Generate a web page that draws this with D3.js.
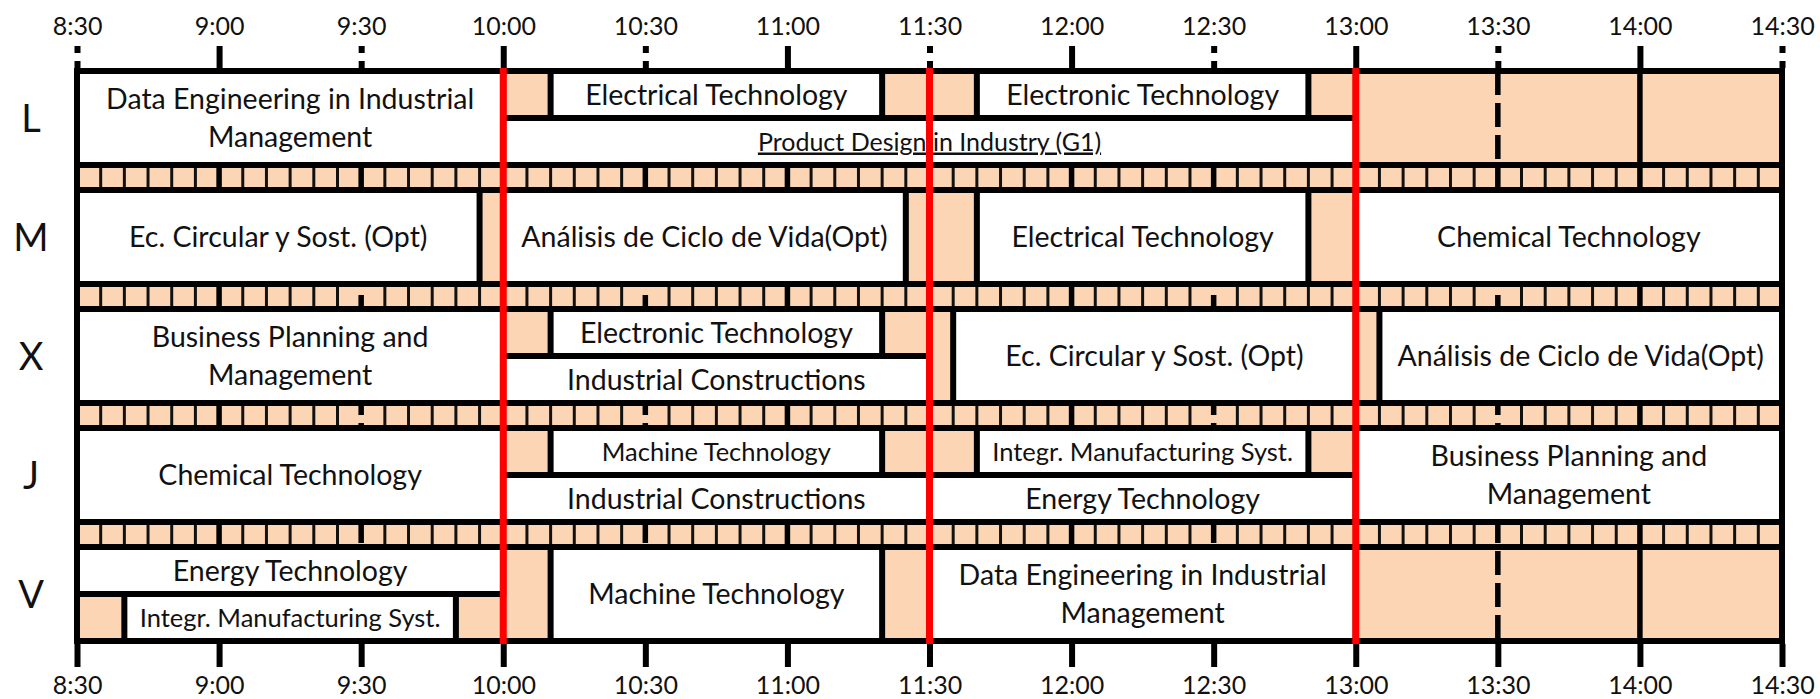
<!DOCTYPE html>
<html>
<head>
<meta charset="utf-8">
<script src="https://cdn.jsdelivr.net/npm/d3@7"></script>
<style>
  body { margin: 0; background: #fff; }
  text { font-family: Lato, "Open Sans", sans-serif; fill: #111; }
</style>
</head>
<body>
<svg id="chart" width="1820" height="699"></svg>
<script>
"use strict";

// timetable data
let days = ["L", "M", "X", "J", "V"];
let tickLabels = ["8:30", "9:00", "9:30", "10:00", "10:30", "11:00", "11:30",
  "12:00", "12:30", "13:00", "13:30", "14:00", "14:30"];
let redLines = ["10:00", "11:30", "13:00"];

// [start, end, part, label, size, underline]
let lunes = [
  ["8:30", "10:00", "full", "Data Engineering in Industrial\nManagement"],
  ["10:10", "11:20", "top", "Electrical Technology"],
  ["11:40", "12:50", "top", "Electronic Technology"],
  ["10:00", "13:00", "bottom", "Product Design in Industry (G1)", "mid", true],
];
let martes = [
  ["8:30", "9:55", "full", "Ec. Circular y Sost. (Opt)"],
  ["10:00", "11:25", "full", "Análisis de Ciclo de Vida(Opt)"],
  ["11:40", "12:50", "full", "Electrical Technology"],
  ["13:00", "14:30", "full", "Chemical Technology"],
];
let miercoles = [
  ["8:30", "10:00", "full", "Business Planning and\nManagement"],
  ["10:10", "11:20", "top", "Electronic Technology"],
  ["10:00", "11:30", "bottom", "Industrial Constructions"],
  ["11:35", "13:00", "full", "Ec. Circular y Sost. (Opt)"],
  ["13:05", "14:30", "full", "Análisis de Ciclo de Vida(Opt)"],
];
let jueves = [
  ["8:30", "10:00", "full", "Chemical Technology"],
  ["10:10", "11:20", "top", "Machine Technology", "small"],
  ["11:40", "12:50", "top", "Integr. Manufacturing Syst.", "small"],
  ["10:00", "11:30", "bottom", "Industrial Constructions"],
  ["11:30", "13:00", "bottom", "Energy Technology"],
  ["13:00", "14:30", "full", "Business Planning and\nManagement"],
];
let viernes = [
  ["8:30", "10:00", "top", "Energy Technology"],
  ["8:40", "9:50", "bottom", "Integr. Manufacturing Syst.", "small"],
  ["10:10", "11:20", "full", "Machine Technology"],
  ["11:30", "13:00", "full", "Data Engineering in Industrial\nManagement"],
];

let schedule = { L: lunes, M: martes, X: miercoles, J: jueves, V: viernes };
let fontSizes = { normal: 28.5, mid: 25, small: 25.5 };

let toMin = (s) => {
  let [h, m] = s.split(":").map(Number);
  return h * 60 + m;
};
let fmt = (m) => `${Math.floor(m / 60)}:${String(m % 60).padStart(2, "0")}`;

let svg = d3.select("#chart");
let peach = "#fcd5b4";

let x = d3.scaleLinear()
  .domain([toMin("8:30"), toMin("14:30")])
  .range([77, 1782]);
let y = d3.scaleBand()
  .domain(days)
  .range([71, 641])
  .paddingInner(25 / 119);
let bw = y.bandwidth();
let top0 = y.range()[0], bot0 = y.range()[1];

// peach background
svg.append("rect")
  .attr("x", x.range()[0]).attr("y", top0)
  .attr("width", x.range()[1] - x.range()[0]).attr("height", bot0 - top0)
  .attr("fill", peach);

// 5 minute cells in the break strips
let fiveMin = d3.range(toMin("8:30") + 5, toMin("14:30"), 5).filter((m) => m % 30 !== 0);
days.slice(0, -1).forEach((d, i) => {
  let ya = y(d) + bw, yb = y(days[i + 1]);
  svg.append("g").selectAll("line")
    .data(fiveMin)
    .enter()
    .append("line")
    .attr("x1", (m) => x(m)).attr("x2", (m) => x(m))
    .attr("y1", ya).attr("y2", yb)
    .attr("stroke", "#111")
    .attr("stroke-width", 3);
});

// half hour grid lines
let tickMins = tickLabels.map(toMin);
svg.append("g").selectAll("line")
  .data(tickMins.slice(1, -1))
  .enter()
  .append("line")
  .attr("x1", (m) => x(m)).attr("x2", (m) => x(m))
  .attr("y1", top0).attr("y2", bot0)
  .attr("stroke", "#000")
  .attr("stroke-width", 5.5)
  .attr("stroke-dasharray", (m) => (m % 60 === 0 ? null : "24 8"));

// row frames
svg.append("g").selectAll("rect")
  .data(days)
  .enter()
  .append("rect")
  .attr("x", x.range()[0]).attr("y", (d) => y(d))
  .attr("width", x.range()[1] - x.range()[0]).attr("height", bw)
  .attr("fill", "none")
  .attr("stroke", "#000")
  .attr("stroke-width", 6);

svg.append("rect")
  .attr("x", x.range()[0]).attr("y", top0)
  .attr("width", x.range()[1] - x.range()[0]).attr("height", bot0 - top0)
  .attr("fill", "none")
  .attr("stroke", "#000")
  .attr("stroke-width", 6);

// sessions
let sessions = [];
days.forEach((d) => {
  schedule[d].forEach((s) => {
    let y0 = y(d), h = bw;
    if (s[2] === "top") h = bw / 2;
    if (s[2] === "bottom") { y0 = y(d) + bw / 2; h = bw / 2; }
    sessions.push({
      x0: x(toMin(s[0])), x1: x(toMin(s[1])), y0: y0, h: h,
      label: s[3], size: fontSizes[s[4] || "normal"], under: !!s[5]
    });
  });
});

let g = svg.append("g");
g.selectAll("rect")
  .data(sessions)
  .enter()
  .append("rect")
  .attr("x", (s) => s.x0).attr("y", (s) => s.y0)
  .attr("width", (s) => s.x1 - s.x0).attr("height", (s) => s.h)
  .attr("fill", "#fff")
  .attr("stroke", "#000")
  .attr("stroke-width", 6);

sessions.forEach((s) => {
  let lines = s.label.split("\n");
  let lh = 38;
  let cx = (s.x0 + s.x1) / 2, cy = s.y0 + s.h / 2;
  let t = g.append("text")
    .attr("text-anchor", "middle")
    .style("font-size", s.size + "px")
    .style("text-decoration", s.under ? "underline" : null);
  lines.forEach((ln, i) => {
    t.append("tspan")
      .attr("x", cx)
      .attr("y", cy + (i - (lines.length - 1) / 2) * lh)
      .attr("dy", "0.36em")
      .text(ln);
  });
});

// red break lines
svg.append("g").selectAll("line")
  .data(redLines.map(toMin))
  .enter()
  .append("line")
  .attr("x1", (m) => x(m)).attr("x2", (m) => x(m))
  .attr("y1", top0 - 3).attr("y2", bot0 + 3)
  .attr("stroke", "#ff0000")
  .attr("stroke-width", 7);

// day labels
svg.append("g").selectAll("text")
  .data(days)
  .enter()
  .append("text")
  .attr("x", 31)
  .attr("y", (d) => y(d) + bw / 2)
  .attr("dy", "0.36em")
  .attr("text-anchor", "middle")
  .style("font-size", "38px")
  .text((d) => d);

// axes
let axTop = d3.axisTop(x).tickValues(tickMins).tickFormat(fmt).tickSize(22).tickPadding(11);
let axBot = d3.axisBottom(x).tickValues(tickMins).tickFormat(fmt).tickSize(23).tickPadding(9);

let gt = svg.append("g").attr("transform", `translate(0,${top0 - 3})`).call(axTop);
let gb = svg.append("g").attr("transform", `translate(0,${bot0 + 3})`).call(axBot);
[gt, gb].forEach((ga) => {
  ga.select(".domain").remove();
  ga.selectAll(".tick line").attr("stroke", "#000").attr("stroke-width", 6);
  ga.selectAll(".tick text")
    .attr("fill", "#111")
    .style("font-size", "25px")
    .style("font-family", "Lato, sans-serif");
});
gt.selectAll(".tick line")
  .attr("stroke-dasharray", (m) => (m % 60 === 0 ? null : "7 8 7"));
</script>
</body>
</html>
